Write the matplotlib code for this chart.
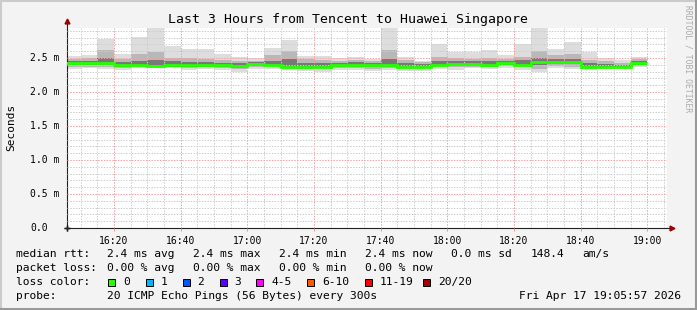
import numpy as np
import matplotlib.pyplot as plt
from matplotlib.patches import Rectangle
from matplotlib.lines import Line2D

plt.rcParams['font.family'] = ['DejaVu Sans Mono']

W, H = 697, 310

# 5 minute bins, minutes after 16:00 (start of each bin)
bin_start = np.arange(5, 180, 5)

# round trip times in ms
rtt_median = [2.42, 2.42, 2.43, 2.40, 2.40, 2.38, 2.40, 2.39, 2.40, 2.39,
              2.38, 2.41, 2.40, 2.37, 2.37, 2.37, 2.39, 2.39, 2.39, 2.40,
              2.37, 2.37, 2.40, 2.41, 2.41, 2.39, 2.42, 2.40, 2.44, 2.44,
              2.44, 2.37, 2.37, 2.37, 2.42]
rtt_max = [2.53, 2.55, 2.78, 2.56, 2.81, 2.96, 2.67, 2.63, 2.63, 2.56,
           2.51, 2.50, 2.64, 2.76, 2.53, 2.53, 2.50, 2.51, 2.49, 2.96,
           2.52, 2.46, 2.71, 2.58, 2.59, 2.61, 2.54, 2.71, 2.96, 2.63,
           2.74, 2.59, 2.50, 2.47, 2.51]
rtt_min = [2.33, 2.35, 2.33, 2.32, 2.35, 2.35, 2.35, 2.32, 2.33, 2.32,
           2.30, 2.34, 2.33, 2.32, 2.31, 2.30, 2.32, 2.32, 2.31, 2.32,
           2.31, 2.31, 2.33, 2.32, 2.35, 2.33, 2.35, 2.32, 2.30, 2.35,
           2.33, 2.32, 2.33, 2.33, 2.36]
mid_hi = [2.49, 2.50, 2.62, 2.49, 2.56, 2.58, 2.50, 2.50, 2.48, 2.47,
          2.46, 2.46, 2.55, 2.60, 2.49, 2.47, 2.46, 2.47, 2.45, 2.62,
          2.47, 2.44, 2.52, 2.50, 2.49, 2.50, 2.49, 2.52, 2.60, 2.55,
          2.56, 2.47, 2.46, 2.43, 2.48]
mid_lo = [2.36, 2.37, 2.37, 2.35, 2.37, 2.36, 2.37, 2.35, 2.36, 2.35,
          2.33, 2.37, 2.36, 2.34, 2.33, 2.33, 2.35, 2.35, 2.34, 2.35,
          2.34, 2.34, 2.36, 2.36, 2.37, 2.36, 2.38, 2.36, 2.34, 2.38,
          2.37, 2.34, 2.35, 2.35, 2.38]
dark_hi = [2.45, 2.46, 2.50, 2.44, 2.46, 2.47, 2.45, 2.44, 2.44, 2.43,
           2.42, 2.44, 2.46, 2.48, 2.42, 2.42, 2.43, 2.44, 2.43, 2.48,
           2.42, 2.41, 2.45, 2.46, 2.45, 2.46, 2.46, 2.47, 2.50, 2.49,
           2.49, 2.42, 2.41, 2.40, 2.45]
dark_lo = [2.39, 2.39, 2.40, 2.37, 2.38, 2.36, 2.37, 2.36, 2.37, 2.36,
           2.35, 2.39, 2.38, 2.35, 2.34, 2.35, 2.37, 2.37, 2.36, 2.37,
           2.35, 2.35, 2.38, 2.39, 2.39, 2.37, 2.40, 2.38, 2.40, 2.41,
           2.41, 2.35, 2.35, 2.35, 2.40]

x_ticks = [20, 40, 60, 80, 100, 120, 140, 160, 180]
x_labels = ['16:20', '16:40', '17:00', '17:20', '17:40', '18:00', '18:20', '18:40', '19:00']
y_ticks = [0.0, 0.5, 1.0, 1.5, 2.0, 2.5]
y_labels = ['0.0', '0.5 m', '1.0 m', '1.5 m', '2.0 m', '2.5 m']

loss_labels = ['0', '1', '2', '3', '4-5', '6-10', '11-19', '20/20']
loss_colors = ['#26ff00', '#00b8ff', '#0059ff', '#5e00ff', '#ff00ff', '#ff5500', '#ff0000', '#a00000']

stats_rtt = ['2.4 ms avg', '2.4 ms max', '2.4 ms min', '2.4 ms now', '0.0 ms sd', '148.4', 'am/s']
stats_loss = ['0.00 % avg', '0.00 % max', '0.00 % min', '0.00 % now']


def fx(x):
    return x / W


def fy(y):
    return 1 - y / H


fig = plt.figure(figsize=(W / 100, H / 100), dpi=100, facecolor='#f3f3f3')

# frame shading
fig.add_artist(Line2D([0, 1], [fy(1), fy(1)], color='#cbcbcb', lw=1.5))
fig.add_artist(Line2D([fx(1), fx(1)], [0, 1], color='#cbcbcb', lw=1.5))
fig.add_artist(Line2D([0, 1], [fy(308.5), fy(308.5)], color='#999999', lw=2.2))
fig.add_artist(Line2D([fx(695.5), fx(695.5)], [0, 1], color='#999999', lw=2.2))

ax = fig.add_axes([fx(67), fy(228), 600 / W, 200 / H])
ax.set_facecolor('white')
ax.set_xlim(5.95, 185.95)
ax.set_ylim(0, 2.94)

edges = np.append(bin_start, bin_start[-1] + 5)
ax.stairs(rtt_max, edges, baseline=rtt_min, fill=True, color='#dddddd', lw=0, zorder=1)
ax.stairs(mid_hi, edges, baseline=mid_lo, fill=True, color='#b8b8b8', lw=0, zorder=1.1)
ax.stairs(dark_hi, edges, baseline=dark_lo, fill=True, color='#787878', lw=0, zorder=1.2)
ax.stairs(rtt_median, edges, baseline=None, color='#26ff00', lw=2.0, zorder=3)

# grid
ax.set_xticks(x_ticks)
ax.set_xticks(np.arange(10, 186, 5), minor=True)
ax.set_yticks(y_ticks)
ax.set_yticks(np.arange(0.1, 2.94, 0.1), minor=True)
ax.grid(which='minor', color='#cccccc', ls=(0, (1.4, 1.4)), lw=0.72, zorder=2)
ax.grid(which='major', color='#f4a0a0', ls=(0, (1.4, 1.4)), lw=0.72, zorder=2)
ax.set_axisbelow(False)

ax.set_xticklabels(x_labels, fontsize=7)
ax.set_yticklabels([])
ax.tick_params(which='major', length=2.2, width=0.7, color='#f09090', pad=3.5)
ax.tick_params(which='minor', length=0)
ax.tick_params(axis='y', which='major', length=0)

for v, lab in zip(y_ticks, y_labels):
    ax.text(fx(30), v, lab, transform=ax.get_yaxis_transform().__class__(fig.transFigure, ax.transData),
            fontsize=7, ha='left', va='center')

for s in ['top', 'right', 'left', 'bottom']:
    ax.spines[s].set_visible(False)

# axis lines with arrows
ax.add_line(Line2D([0, 0], [0, 1.03], transform=ax.transAxes, color='#222222', lw=0.8, clip_on=False))
ax.add_line(Line2D([0, 1.005], [0, 0], transform=ax.transAxes, color='#222222', lw=0.8, clip_on=False))
ax.plot([0], [1.035], marker='^', ms=3.5, color='#a00000', transform=ax.transAxes, clip_on=False)
ax.plot([1.008], [0], marker='>', ms=3.5, color='#a00000', transform=ax.transAxes, clip_on=False)
ax.plot([0, 0], [0, 0], marker='+', ms=4, color='#222222', transform=ax.transAxes, clip_on=False)

# texts
fig.text(0.5, fy(19), 'Last 3 Hours from Tencent to Huawei Singapore', fontsize=9.5,
         ha='center', va='center')
fig.text(fx(11), fy(127), 'Seconds', fontsize=8, rotation=90, ha='center', va='center')
fig.text(fx(688), fy(59), 'RRDTOOL / TOBI OETIKER', fontsize=5.8, rotation=270,
         ha='center', va='center', color='#aaaaaa')

row_y = [254.3, 268.3, 282.3, 296]
fs = 8.1
fig.text(fx(16), fy(row_y[0]), 'median rtt:', fontsize=fs, va='center')
for xp, s in zip([107.3, 193.3, 279, 365, 451, 531, 582], stats_rtt):
    fig.text(fx(xp), fy(row_y[0]), s, fontsize=fs, va='center')

fig.text(fx(16), fy(row_y[1]), 'packet loss:', fontsize=fs, va='center')
for xp, s in zip([107.3, 193.3, 279, 365], stats_loss):
    fig.text(fx(xp), fy(row_y[1]), s, fontsize=fs, va='center')

fig.text(fx(16), fy(row_y[2]), 'loss color:', fontsize=fs, va='center')
box_x = [108, 145.5, 182.5, 219.5, 256, 307, 365, 423]
for bx, lab, col in zip(box_x, loss_labels, loss_colors):
    fig.add_artist(Rectangle((fx(bx), fy(row_y[2] + 4)), 7 / W, 7 / H, transform=fig.transFigure,
                             facecolor=col, edgecolor='black', lw=0.7))
    fig.text(fx(bx + 15), fy(row_y[2]), lab, fontsize=fs, va='center')

fig.text(fx(16), fy(row_y[3]), 'probe:', fontsize=fs, va='center')
fig.text(fx(107.3), fy(row_y[3]), '20 ICMP Echo Pings (56 Bytes) every 300s', fontsize=fs, va='center')
fig.text(fx(681), fy(row_y[3]), 'Fri Apr 17 19:05:57 2026', fontsize=fs, va='center', ha='right')

fig.savefig('out.png', dpi=100, facecolor=fig.get_facecolor())
